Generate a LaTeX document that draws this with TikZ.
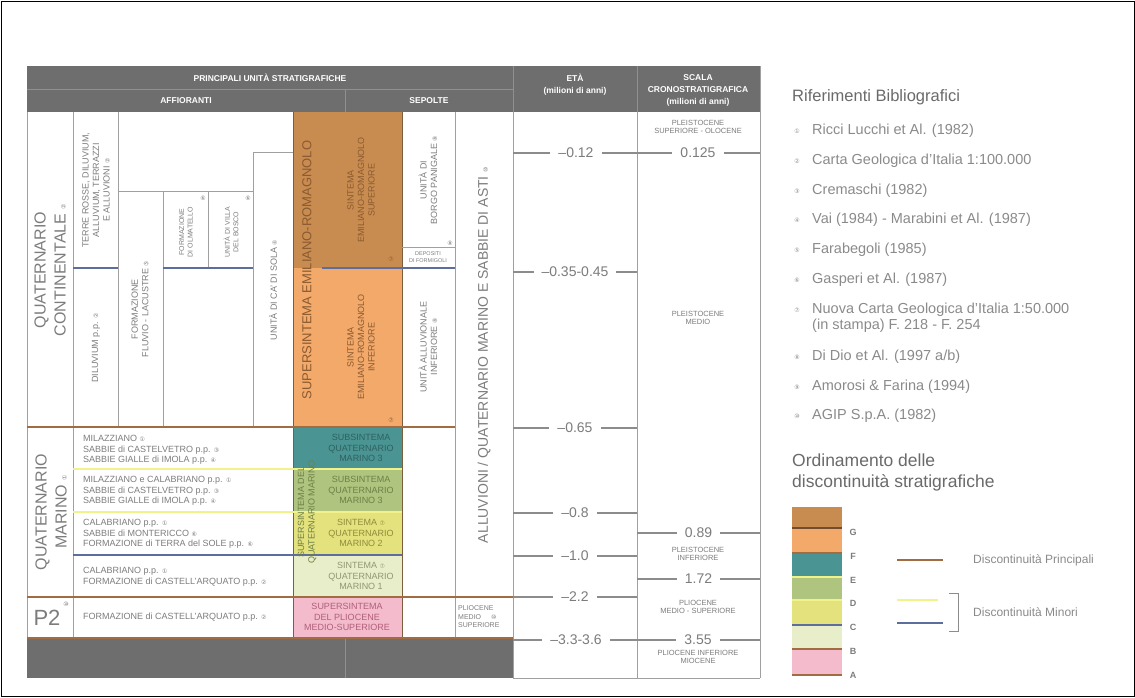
\documentclass[tikz,border=0pt]{standalone}
\usepackage{fontspec}
\setmainfont{Liberation Sans}
\newfontfamily\circfont{DejaVu Sans}
\usetikzlibrary{positioning}

\definecolor{hdrgray}{HTML}{6E6E6E}
\definecolor{hdrline}{HTML}{909090}
\definecolor{tabgray}{HTML}{A0A0A0}
\definecolor{txtgray}{HTML}{7C7C7C}
\definecolor{reftgray}{HTML}{8A8A8A}
\definecolor{titlegray}{HTML}{6A6A6A}
\definecolor{tickgray}{HTML}{8C8C8C}
\definecolor{orangeG}{HTML}{C98C50}
\definecolor{orangeF}{HTML}{F3A96A}
\definecolor{tealE}{HTML}{4A9593}
\definecolor{greenD}{HTML}{AFC47E}
\definecolor{yellowC}{HTML}{E4E27C}
\definecolor{paleB}{HTML}{E8EEC9}
\definecolor{pinkA}{HTML}{F3BBCB}
\definecolor{prinbrown}{HTML}{A26C42}
\definecolor{minyellow}{HTML}{F2F28A}
\definecolor{minblue}{HTML}{5D6D9E}
\definecolor{colborder}{HTML}{7A5E3E}
\definecolor{txtorange}{HTML}{8A5A30}
\definecolor{txtteal}{HTML}{2E6160}
\definecolor{txtgreen}{HTML}{6E8046}
\definecolor{txtyellow}{HTML}{8E8C3C}
\definecolor{txtpale}{HTML}{8E9870}
\definecolor{txtpink}{HTML}{B0607A}

\newcommand{\cnum}[1]{{\circfont\fontsize{6}{6}\selectfont #1}}

\tikzset{
  gridline/.style={draw=tabgray, line width=0.9pt},
  principal/.style={draw=prinbrown, line width=2pt},
  minyel/.style={draw=minyellow, line width=1.6pt},
  minblu/.style={draw=minblue, line width=1.6pt},
  tick/.style={draw=tickgray, line width=1.8pt},
  tabtext/.style={text=txtgray, font=\fontsize{9}{10.5}\selectfont, inner sep=0pt, align=center},
  rottext/.style={tabtext, rotate=90},
  smalltext/.style={text=txtgray, font=\fontsize{7}{8.5}\selectfont, inner sep=0pt, align=center},
  bigrot/.style={text=txtgray, font=\fontsize{16}{20}\selectfont, rotate=90, align=center, inner sep=0pt},
  hdrtext/.style={text=white, font=\bfseries\fontsize{8.5}{12}\selectfont, align=center, inner sep=0pt},
  agelab/.style={fill=white, text=txtgray, font=\fontsize{14}{14}\selectfont, inner xsep=8pt, inner ysep=1pt},
  chronotext/.style={text=txtgray, font=\fontsize{7.5}{8.5}\selectfont, align=center, inner sep=0pt},
  reftext/.style={text=reftgray, font=\fontsize{14.5}{16}\selectfont, anchor=west, align=left, inner sep=0pt},
  reftitle/.style={text=titlegray, font=\fontsize{16.5}{20}\selectfont, anchor=west, align=left, inner sep=0pt},
  legletter/.style={text=txtgray, font=\bfseries\fontsize{9}{9}\selectfont, inner sep=0pt}
}

\begin{document}
\begin{tikzpicture}[x=1pt, y=-1pt]
  \useasboundingbox (0,0) rectangle (1135,697);
  \draw[black, line width=0.8pt] (1,1) rectangle (1134,696);

  % header bands
  \fill[hdrgray] (27,66) rectangle (760,112);
  \draw[hdrline] (27,89) -- (513,89);
  \draw[hdrline] (345,89) -- (345,112);
  \draw[hdrline] (513,66) -- (513,112);
  \draw[hdrline] (637,66) -- (637,112);
  \node[hdrtext] (hprinc) at (270,78) {PRINCIPALI UNITÀ STRATIGRAFICHE};
  \node[hdrtext] (haff) at (186,101) {AFFIORANTI};
  \node[hdrtext] (hsep) at (429,101) {SEPOLTE};
  \node[hdrtext] (heta) at (575,85) {ETÀ\\(milioni di anni)};
  \node[hdrtext] (hscala) at (698,90) {SCALA\\CRONOSTRATIGRAFICA\\(milioni di anni)};

  % colored units
  \fill[orangeG] (293,112) rectangle (402,268);
  \fill[orangeF] (293,268) rectangle (402,427);
  \fill[tealE] (293,427) rectangle (402,469);
  \fill[greenD] (293,469) rectangle (402,512);
  \fill[yellowC] (293,512) rectangle (402,555);
  \fill[paleB] (293,555) rectangle (402,597);
  \fill[pinkA] (293,597) rectangle (402,638);
  \draw[colborder, line width=1pt] (293,112) -- (293,638);
  \draw[colborder, line width=1pt] (402,112) -- (402,638);

  % footer band
  \fill[hdrgray] (27,638) rectangle (513,678);
  \draw[hdrline] (345,638) -- (345,678);

  % grid
  \draw[gridline] (27,112) -- (27,638);
  \draw[gridline] (73,112) -- (73,638);
  \draw[gridline] (118,112) -- (118,427);
  \draw[gridline] (163,191) -- (163,427);
  \draw[gridline] (208,191) -- (208,268);
  \draw[gridline] (253,152) -- (253,427);
  \draw[gridline] (253,152) -- (293,152);
  \draw[gridline] (118,191) -- (253,191);
  \draw[gridline] (402,247) -- (455,247);
  \draw[gridline] (455,112) -- (455,638);
  \draw[gridline] (513,112) -- (513,678);
  \draw[gridline] (637,112) -- (637,678);
  \draw[gridline] (760,66) -- (760,678);
  \draw[gridline] (513,678) -- (760,678);

  % discontinuities
  \draw[minblu] (73,268) -- (118,268);
  \draw[minblu] (163,268) -- (253,268);
  \draw[minblu] (322,268) -- (455,268);
  \draw[minyel] (73,469) -- (402,469);
  \draw[minyel] (73,512) -- (402,512);
  \draw[minblu] (73,555) -- (402,555);
  \draw[principal] (27,427) -- (455,427);
  \draw[principal] (27,597) -- (513,597);
  \draw[principal] (27,638) -- (513,638);

  % affioranti
  \node[bigrot] (qcont) at (50,270) {QUATERNARIO\\CONTINENTALE \cnum{②}};
  \node[bigrot] (qmar) at (51,512) {QUATERNARIO\\MARINO \cnum{①}};
  \node[text=txtgray, font=\fontsize{22}{22}\selectfont, inner sep=0pt] (ptwo) at (47,618) {P2};
  \node[text=txtgray, inner sep=0pt] (ptwonum) at (66,604) {\cnum{⑩}};
  \node[rottext] (terre) at (96,190) {TERRE ROSSE, DILUVIUM,\\ALLUVIUM, TERRAZZI\\E ALLUVIONI \cnum{②}};
  \node[rottext] (diluv) at (96,348) {DILUVIUM p.p. \cnum{②}};
  \node[rottext] (fluvio) at (140,309) {FORMAZIONE\\FLUVIO - LACUSTRE \cnum{⑤}};
  \node[smalltext, rotate=90] (olmat) at (186,232) {FORMAZIONE\\DI OLMATELLO};
  \node[smalltext] (olmatnum) at (203,198) {\cnum{⑥}};
  \node[smalltext, rotate=90] (villa) at (231,232) {UNITÀ DI VILLA\\DEL BOSCO};
  \node[smalltext] (villanum) at (248,198) {\cnum{⑥}};
  \node[rottext] (casola) at (273,290) {UNITÀ DI CA' DI SOLA \cnum{④}};

  \node[tabtext, anchor=west, align=left] (rowa) at (83,450) {MILAZZIANO \cnum{①}\\SABBIE di CASTELVETRO p.p. \cnum{③}\\SABBIE GIALLE di IMOLA p.p. \cnum{④}};
  \node[tabtext, anchor=west, align=left] (rowb) at (83,491) {MILAZZIANO e CALABRIANO p.p. \cnum{①}\\SABBIE di CASTELVETRO p.p. \cnum{③}\\SABBIE GIALLE di IMOLA p.p. \cnum{④}};
  \node[tabtext, anchor=west, align=left] (rowc) at (83,534) {CALABRIANO p.p. \cnum{①}\\SABBIE di MONTERICCO \cnum{⑥}\\FORMAZIONE di TERRA del SOLE p.p. \cnum{⑥}};
  \node[tabtext, anchor=west, align=left] (rowd) at (83,577) {CALABRIANO p.p. \cnum{①}\\FORMAZIONE di CASTELL'ARQUATO p.p. \cnum{②}};
  \node[tabtext, anchor=west, align=left] (rowe) at (83,617) {FORMAZIONE di CASTELL'ARQUATO p.p. \cnum{②}};

  % supersintemi
  \node[rottext, text=txtorange, font=\fontsize{13}{15}\selectfont] (ser) at (307,270) {SUPERSINTEMA EMILIANO-ROMAGNOLO};
  \node[rottext, text=txtorange] (aes) at (361,190) {SINTEMA\\EMILIANO-ROMAGNOLO\\SUPERIORE};
  \node[rottext, text=txtorange] (aei) at (361,347) {SINTEMA\\EMILIANO-ROMAGNOLO\\INFERIORE};
  \node[smalltext, text=txtorange] (aesnum) at (391,259) {\cnum{⑦}};
  \node[smalltext, text=txtorange] (aeinum) at (391,420) {\cnum{⑦}};
  \node[rottext, text=txtgreen] (sqm) at (307,512) {SUPERSINTEMA DEL\\QUATERNARIO MARINO};
  \node[tabtext, text=txtteal] (qmfour) at (361,448) {SUBSINTEMA\\QUATERNARIO\\MARINO 3};
  \node[tabtext, text=txtgreen] (qmthree) at (361,490) {SUBSINTEMA\\QUATERNARIO\\MARINO 3};
  \node[tabtext, text=txtyellow] (qmtwo) at (361,533) {SINTEMA \cnum{⑦}\\QUATERNARIO\\MARINO 2};
  \node[tabtext, text=txtpale] (qmone) at (361,576) {SINTEMA \cnum{⑦}\\QUATERNARIO\\MARINO 1};
  \node[tabtext, text=txtpink] (plms) at (347,617) {SUPERSINTEMA\\DEL PLIOCENE\\MEDIO-SUPERIORE};

  % sepolte
  \node[rottext] (borgo) at (428,180) {UNITÀ DI\\BORGO PANIGALE \cnum{⑧}};
  \node[smalltext, font=\fontsize{5.5}{7}\selectfont] (formig) at (428,257) {DEPOSITI\\DI FORMIGOLI};
  \node[smalltext] (borgonum) at (450,243) {\cnum{⑧}};
  \node[rottext] (alluinf) at (428,347) {UNITÀ ALLUVIONALE\\INFERIORE \cnum{⑧}};
  \node[bigrot, font=\fontsize{14}{16}\selectfont] (alluv) at (484,355) {ALLUVIONI / QUATERNARIO MARINO E SABBIE DI ASTI \cnum{⑩}};
  \node[smalltext, anchor=west, align=left] (pliosep) at (458,617) {PLIOCENE\\MEDIO \hspace{8pt}\cnum{⑩}\\SUPERIORE};

  % ages
  \draw[tick] (513,153) -- (760,153);
  \node[agelab] (etaa) at (576,153) {–0.12};
  \node[agelab] (chra) at (698,153) {0.125};
  \foreach \yy/\lab in {272/{–0.35-0.45}, 428/{–0.65}, 513/{–0.8}, 556/{–1.0}, 597/{–2.2}}
    \draw[tick] (513,\yy) -- (637,\yy) node[agelab, midway] (eta\yy) {\lab};
  \foreach \yy/\lab in {533/{0.89}, 579/{1.72}}
    \draw[tick] (637,\yy) -- (760,\yy) node[agelab, midway] (chr\yy) {\lab};
  \draw[tick] (513,640) -- (760,640);
  \node[agelab] (etab) at (576,640) {–3.3-3.6};
  \node[agelab] (chrb) at (698,640) {3.55};

  \node[chronotext] (cpso) at (698,127) {PLEISTOCENE\\SUPERIORE - OLOCENE};
  \node[chronotext] (cpm) at (698,318) {PLEISTOCENE\\MEDIO};
  \node[chronotext] (cpi) at (698,554) {PLEISTOCENE\\INFERIORE};
  \node[chronotext] (cplms) at (698,607) {PLIOCENE\\MEDIO - SUPERIORE};
  \node[chronotext] (cplim) at (698,657) {PLIOCENE INFERIORE\\MIOCENE};

  % bibliography
  \node[reftitle] (rtitle) at (792,97) {Riferimenti Bibliografici};
  \foreach \yy/\rnum/\lab in {131/①/{Ricci Lucchi et Al. (1982)}, 161/②/{Carta Geologica d'Italia 1:100.000}, 191/③/{Cremaschi (1982)}, 220/④/{Vai (1984) - Marabini et Al. (1987)}, 250/⑤/{Farabegoli (1985)}, 280/⑥/{Gasperi et Al. (1987)}, 357/⑧/{Di Dio et Al. (1997 a/b)}, 387/⑨/{Amorosi \& Farina (1994)}, 416/⑩/{AGIP S.p.A. (1982)}}
  {
    \node[text=reftgray, inner sep=0pt] (rn\yy) at (797,\yy) {\cnum{\rnum}};
    \node[reftext] (rt\yy) at (812,\yy) {\lab};
  }
  \node[text=reftgray, inner sep=0pt] (rnnuova) at (797,310) {\cnum{⑦}};
  \node[reftext, anchor=north west] (rtnuova) at (812,303) {Nuova Carta Geologica d'Italia 1:50.000\\(in stampa) F. 218 - F. 254};

  % legend of discontinuities
  \node[reftitle, font=\fontsize{17.5}{21}\selectfont, anchor=north west] (otitle) at (792,454) {Ordinamento delle\\discontinuità stratigrafiche};
  \fill[orangeG] (792,507) rectangle (842,528);
  \fill[orangeF] (792,528) rectangle (842,553);
  \fill[tealE] (792,553) rectangle (842,577);
  \fill[greenD] (792,577) rectangle (842,600);
  \fill[yellowC] (792,600) rectangle (842,625);
  \fill[paleB] (792,625) rectangle (842,649);
  \fill[pinkA] (792,649) rectangle (842,675);
  \draw[principal, draw=prinbrown!70!black] (792,528) -- (842,528);
  \draw[principal] (792,553) -- (842,553);
  \draw[minyel] (792,577) -- (842,577);
  \draw[minyel] (792,600) -- (842,600);
  \draw[minblu] (792,625) -- (842,625);
  \draw[principal] (792,649) -- (842,649);
  \draw[principal] (792,675) -- (842,675);
  \foreach \yy/\ltr in {532/G, 556/F, 580/E, 603/D, 627/C, 651/B, 675/A}
    \node[legletter] (leg\ltr) at (853,\yy) {\ltr};

  \draw[principal] (897,560) -- (943,560);
  \node[reftext, font=\fontsize{12}{14}\selectfont] (lprinc) at (973,560) {Discontinuità Principali};
  \draw[minyel] (897,600) -- (938,600);
  \draw[minblu] (897,623) -- (943,623);
  \draw[draw=tickgray, line width=0.7pt] (949,593) -- (958,593) -- (958,631) -- (949,631);
  \node[reftext, font=\fontsize{12}{14}\selectfont] (lminor) at (973,612) {Discontinuità Minori};
\end{tikzpicture}
\end{document}
